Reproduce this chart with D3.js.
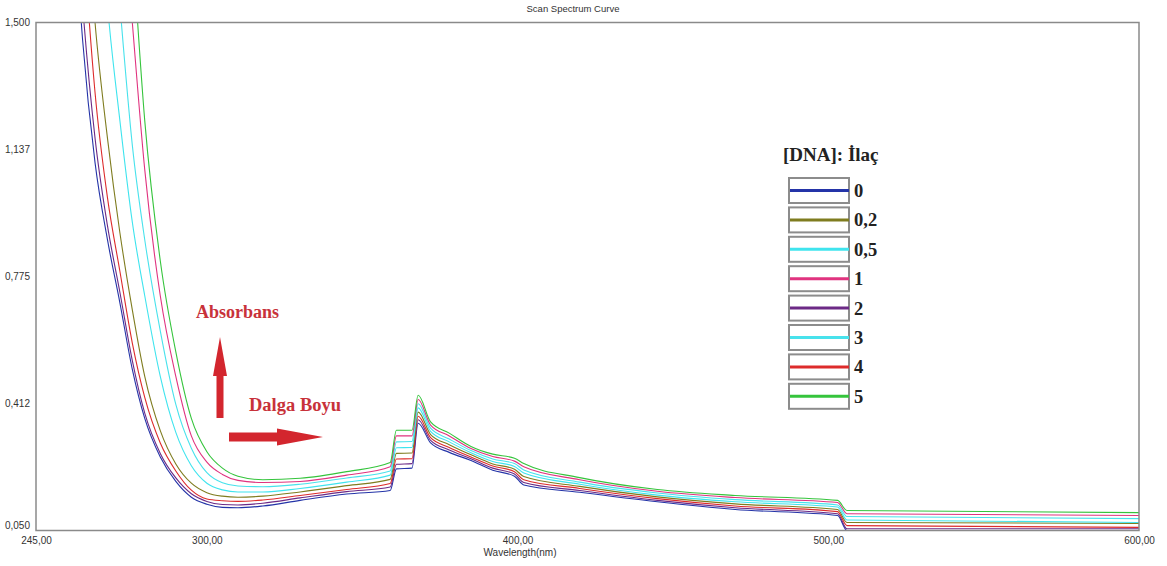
<html>
  <head>
	<meta charset="utf-8">
	<title>Scan Spectrum Curve</title>
	<script src="https://d3js.org/d3.v7.min.js"></script>
	<style>
	  body { margin: 0; background: #fff; }
	</style>
  </head>
  <body>
  <svg width="1167" height="566"></svg>

	<script type="text/javascript">

    // wavelengths (nm) where the curves were read
    var wavelengths = [256, 260, 264, 268, 272, 276, 280, 285, 290, 295, 300, 305, 310, 318, 330, 345,
                       359, 361, 366, 368, 372, 378, 385, 392, 399, 402, 420, 445, 470, 503, 506, 600];

    // absorbance of each [DNA]:drug ratio
    var ratio0   = [2.00, 1.45, 1.10, 0.88, 0.70, 0.51, 0.37, 0.26, 0.19, 0.145, 0.125, 0.116, 0.115, 0.12, 0.136, 0.154,
                    0.164, 0.226, 0.228, 0.356, 0.30, 0.273, 0.25, 0.222, 0.205, 0.18, 0.159, 0.132, 0.11, 0.093, 0.05, 0.05];
    var ratio2   = [2.10, 1.55, 1.17, 0.92, 0.73, 0.535, 0.385, 0.27, 0.20, 0.155, 0.133, 0.124, 0.123, 0.128, 0.143, 0.161,
                    0.174, 0.239, 0.241, 0.366, 0.307, 0.280, 0.255, 0.228, 0.211, 0.187, 0.164, 0.136, 0.115, 0.098, 0.055, 0.055];
    var ratio4   = [2.40, 1.78, 1.30, 1.00, 0.79, 0.585, 0.43, 0.30, 0.22, 0.165, 0.14, 0.135, 0.133, 0.137, 0.15, 0.167,
                    0.184, 0.254, 0.255, 0.376, 0.315, 0.287, 0.26, 0.234, 0.218, 0.195, 0.17, 0.141, 0.12, 0.104, 0.064, 0.059];
    var ratio02  = [2.70, 2.00, 1.50, 1.17, 0.90, 0.68, 0.49, 0.335, 0.24, 0.185, 0.158, 0.148, 0.145, 0.148, 0.16, 0.178,
                    0.196, 0.27, 0.271, 0.388, 0.324, 0.295, 0.266, 0.24, 0.225, 0.204, 0.176, 0.146, 0.126, 0.11, 0.073, 0.07];
    var ratio05  = [3.40, 2.70, 2.05, 1.55, 1.22, 0.93, 0.72, 0.49, 0.33, 0.235, 0.185, 0.166, 0.16, 0.16, 0.17, 0.188,
                    0.208, 0.286, 0.287, 0.40, 0.333, 0.303, 0.272, 0.247, 0.233, 0.214, 0.182, 0.151, 0.132, 0.117, 0.08, 0.073];
    var ratio3   = [3.80, 3.20, 2.55, 2.00, 1.55, 1.15, 0.88, 0.62, 0.41, 0.285, 0.215, 0.186, 0.177, 0.175, 0.182, 0.20,
                    0.22, 0.303, 0.304, 0.412, 0.342, 0.311, 0.278, 0.254, 0.241, 0.223, 0.188, 0.157, 0.138, 0.123, 0.09, 0.084];
    var ratio1   = [4.20, 3.60, 3.00, 2.45, 1.95, 1.50, 1.08, 0.72, 0.49, 0.32, 0.245, 0.21, 0.193, 0.187, 0.19, 0.208,
                    0.232, 0.32, 0.32, 0.424, 0.351, 0.32, 0.284, 0.261, 0.248, 0.232, 0.195, 0.162, 0.144, 0.13, 0.098, 0.093];
    var ratio5   = [4.50, 4.00, 3.40, 2.85, 2.30, 1.73, 1.22, 0.82, 0.56, 0.37, 0.275, 0.228, 0.205, 0.195, 0.199, 0.218,
                    0.244, 0.336, 0.336, 0.436, 0.36, 0.328, 0.29, 0.268, 0.256, 0.241, 0.201, 0.167, 0.15, 0.136, 0.107, 0.101];

    // legend
    var legendLabels = ["0", "0,2", "0,5", "1", "2", "3", "4", "5"];
    var legendColors = ["#2434a8", "#7f7c1f", "#3fe4ee", "#e0337f", "#6c2a86", "#48e2ec", "#dd2b2b", "#35c43c"];

    // which legend entry each curve belongs to
    var curves = [
        {label: "0",   values: ratio0},
        {label: "2",   values: ratio2},
        {label: "4",   values: ratio4},
        {label: "0,2", values: ratio02},
        {label: "0,5", values: ratio05},
        {label: "3",   values: ratio3},
        {label: "1",   values: ratio1},
        {label: "5",   values: ratio5}
    ];

    // axes ticks
    var xTicks = [245, 300, 400, 500, 600];
    var xTickLabels = ["245,00", "300,00", "400,00", "500,00", "600,00"];
    var yTicks = [0.05, 0.4125, 0.775, 1.1375, 1.5];
    var yTickLabels = ["0,050", "0,412", "0,775", "1,137", "1,500"];

    var plotL = 36, plotR = 1139, plotT = 22.5, plotB = 530.5;
    var sans = "'Liberation Sans', Arial, sans-serif";
    var serif = "'Liberation Serif', 'Times New Roman', serif";

    var escalaX = d3.scaleLinear().domain([245, 600]).range([plotL, plotR]);
    var escalaY = d3.scaleLinear().domain([0.05, 1.5]).range([plotB, plotT]);
    var cor = d3.scaleOrdinal().domain(legendLabels).range(legendColors);

    var svg = d3.select("svg");

    svg.append("defs").append("clipPath").attr("id", "plotclip")
       .append("rect").attr("x", plotL).attr("y", plotT)
       .attr("width", plotR - plotL).attr("height", plotB - plotT);

    // title
    svg.append("text").attr("x", 573).attr("y", 12)
       .attr("text-anchor", "middle").style("font-family", sans).style("font-size", "9.5px").attr("fill", "#333")
       .text("Scan Spectrum Curve");

    // curves
    var linha = d3.line()
        .x(function(d, i) { return escalaX(wavelengths[i]); })
        .y(function(d) { return escalaY(d); })
        .curve(d3.curveMonotoneX);

    svg.append("g").attr("clip-path", "url(#plotclip)")
       .selectAll("path").data(curves).enter().append("path")
       .attr("d", function(c) { return linha(c.values); })
       .attr("fill", "none")
       .attr("stroke", function(c) { return cor(c.label); })
       .attr("stroke-width", 1.1);

    // frame
    svg.append("rect").attr("x", plotL).attr("y", plotT)
       .attr("width", plotR - plotL).attr("height", plotB - plotT)
       .attr("fill", "none").attr("stroke", "#8a8a8a").attr("stroke-width", 1.5);

    // x axis
    var eixoX = d3.axisBottom(escalaX).tickValues(xTicks).tickSize(0)
        .tickFormat(function(d, i) { return xTickLabels[i]; });
    var grupoX = svg.append("g").attr("transform", "translate(0," + plotB + ")").call(eixoX);
    grupoX.select(".domain").remove();
    grupoX.selectAll("text").style("font-family", sans).style("font-size", "10px")
        .attr("fill", "#333").attr("dy", "1.05em");

    svg.append("text").attr("x", 520).attr("y", 556)
       .attr("text-anchor", "middle").style("font-family", sans).style("font-size", "10px").attr("fill", "#333")
       .text("Wavelength(nm)");

    // y axis
    var eixoY = d3.axisLeft(escalaY).tickValues(yTicks).tickSize(0)
        .tickFormat(function(d, i) { return yTickLabels[i]; });
    var grupoY = svg.append("g").attr("transform", "translate(" + (plotL - 3) + ",0)").call(eixoY);
    grupoY.select(".domain").remove();
    grupoY.selectAll("text").style("font-family", sans).style("font-size", "10px").attr("fill", "#333")
        .attr("dy", function(d) { return d === 0.05 ? "-0.25em" : "0.32em"; });

    // legend
    var leg = svg.append("g");
    leg.append("text").attr("x", 783).attr("y", 161)
       .style("font-family", serif).style("font-weight", "bold").style("font-size", "19px").attr("fill", "#222")
       .text("[DNA]: İlaç");

    var item = leg.selectAll("g.item").data(legendLabels).enter().append("g")
        .attr("class", "item")
        .attr("transform", function(d, i) { return "translate(789," + (178 + i * 29.4) + ")"; });
    item.append("rect").attr("width", 60).attr("height", 25)
        .attr("fill", "#fff").attr("stroke", "#8c8c8c").attr("stroke-width", 2);
    item.append("line").attr("x1", 1).attr("x2", 60).attr("y1", 12.5).attr("y2", 12.5)
        .attr("stroke", function(d) { return cor(d); }).attr("stroke-width", 3);
    item.append("text").attr("x", 65).attr("y", 19)
        .style("font-family", serif).style("font-weight", "bold").style("font-size", "18.5px").attr("fill", "#222")
        .text(function(d) { return d; });

    // annotations
    var vermelho = "#d3262e";
    svg.append("text").attr("x", 196).attr("y", 318)
       .style("font-family", serif).style("font-weight", "bold").style("font-size", "18px").attr("fill", "#c8323a")
       .text("Absorbans");
    svg.append("text").attr("x", 249).attr("y", 411)
       .style("font-family", serif).style("font-weight", "bold").style("font-size", "18.5px").attr("fill", "#c8323a")
       .text("Dalga Boyu");

    // up arrow
    svg.append("path")
       .attr("d", "M220,337 L227,376 L223.5,376 L223.5,418 L216.5,418 L216.5,376 L213,376 Z")
       .attr("fill", vermelho);
    // right arrow
    svg.append("path")
       .attr("d", "M229,432.5 L277,432.5 L277,428.5 L323,437 L277,445.5 L277,441.5 L229,441.5 Z")
       .attr("fill", vermelho);

	</script>
  </body>
</html>
